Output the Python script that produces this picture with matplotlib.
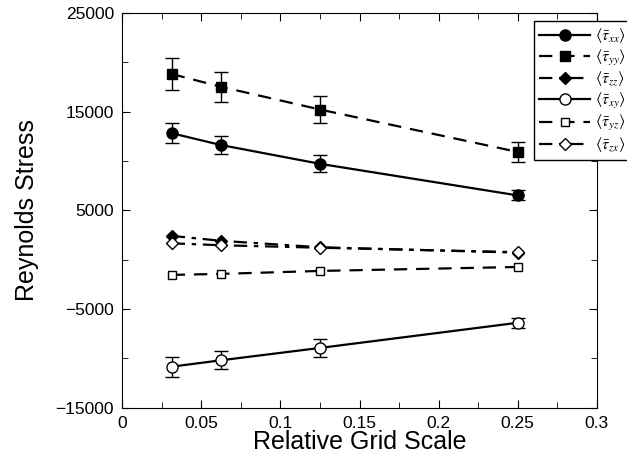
import numpy as np
import matplotlib
matplotlib.use("Agg")
import matplotlib.pyplot as plt

plt.rcParams['font.family'] = ['Liberation Sans', 'DejaVu Sans']
plt.rcParams['mathtext.fontset'] = 'stix'

# grid scales
scale = [1/32, 1/16, 1/8, 1/4]

# Reynolds stress components and error bars
tau_xx = [12800, 11600, 9700, 6500]
err_xx = [1000, 950, 850, 500]
tau_yy = [18800, 17500, 15200, 10900]
err_yy = [1650, 1500, 1350, 1000]
tau_zz = [2400, 1900, 1250, 700]
tau_xy = [-10850, -10200, -8950, -6400]
err_xy = [1000, 900, 900, 500]
tau_yz = [-1550, -1450, -1150, -750]
tau_zx = [1650, 1450, 1200, 750]

labels = [r'$\langle\bar{\tau}_{xx}\rangle$', r'$\langle\bar{\tau}_{yy}\rangle$',
          r'$\langle\bar{\tau}_{zz}\rangle$', r'$\langle\bar{\tau}_{xy}\rangle$',
          r'$\langle\bar{\tau}_{yz}\rangle$', r'$\langle\bar{\tau}_{zx}\rangle$']

fig = plt.figure(figsize=(6.27, 4.57), dpi=100)
ax = fig.add_axes([0.195, 0.108, 0.757, 0.864])

lw = 1.6
eb = dict(capsize=5, elinewidth=1, capthick=1, ecolor='black')

h1 = ax.errorbar(scale, tau_xx, yerr=err_xx, fmt='-o', color='black', lw=lw,
                 ms=8, mfc='black', **eb)
h2 = ax.errorbar(scale, tau_yy, yerr=err_yy, fmt='s', ls=(0, (6, 4)), color='black',
                 lw=lw, ms=7, mfc='black', **eb)
h3, = ax.plot(scale, tau_zz, marker='D', ls=(0, (6, 3, 2, 3)), color='black', lw=lw,
              ms=6, mfc='black')
h4 = ax.errorbar(scale, tau_xy, yerr=err_xy, fmt='-o', color='black', lw=lw,
                 ms=8, mfc='white', **eb)
h5, = ax.plot(scale, tau_yz, marker='s', ls=(0, (6, 4)), color='black', lw=lw,
              ms=6, mfc='white')
h6, = ax.plot(scale, tau_zx, marker='D', ls=(0, (6, 3, 2, 3)), color='black', lw=lw,
              ms=6, mfc='white')

ax.set_xlim(0, 0.3)
ax.set_ylim(-15000, 25000)
ax.set_xticks([0, 0.05, 0.1, 0.15, 0.2, 0.25, 0.3])
ax.set_xticklabels(['0', '0.05', '0.1', '0.15', '0.2', '0.25', '0.3'])
ax.set_xticks(np.arange(0.025, 0.3, 0.05), minor=True)
ax.set_yticks([-15000, -5000, 5000, 15000, 25000])
ax.set_yticks([-10000, 0, 10000, 20000], minor=True)
ax.tick_params(which='both', direction='in', top=True, right=True, labelsize=12.5)
ax.tick_params(which='major', length=6, pad=6)
ax.tick_params(which='minor', length=4)

ax.set_xlabel('Relative Grid Scale', fontsize=18, labelpad=-1)
ax.set_ylabel('Reynolds Stress', fontsize=18, labelpad=12)

handles = [h1[0], h2[0], h3, h4[0], h5, h6]
leg = fig.legend(handles, labels, loc='upper left', bbox_to_anchor=(0.851, 0.955),
                 fontsize=11.5, handlelength=3.2, handletextpad=0.3, labelspacing=0.15,
                 borderpad=0.35, borderaxespad=0, fancybox=False, framealpha=1,
                 edgecolor='black')
leg.get_frame().set_linewidth(1)

fig.savefig('out.png', dpi=100)
